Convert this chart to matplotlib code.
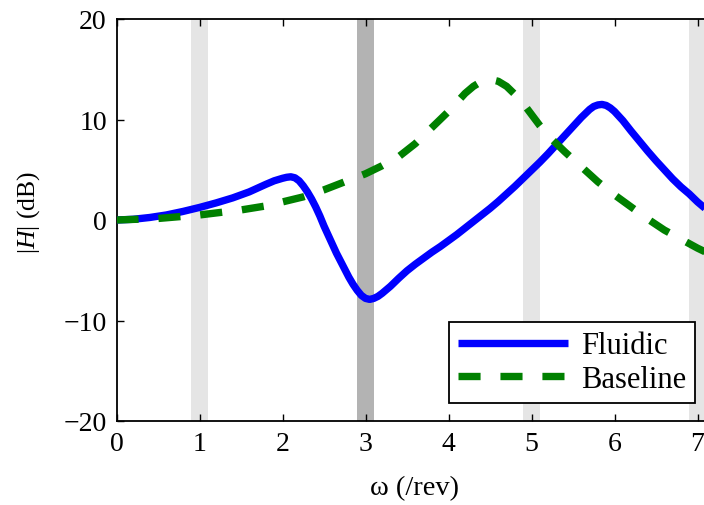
import matplotlib
matplotlib.use("Agg")
import matplotlib.pyplot as plt

# Datos
omega_fluidic = [0.0, 0.2, 0.4, 0.6, 0.8, 1.0, 1.2, 1.4, 1.6, 1.8, 1.9, 2.0, 2.05, 2.1,
                 2.15, 2.2, 2.25, 2.3, 2.35, 2.4, 2.45, 2.5, 2.55, 2.6, 2.65, 2.7, 2.75,
                 2.8, 2.85, 2.9, 2.95, 3.0, 3.05, 3.1, 3.15, 3.2, 3.3, 3.4, 3.5, 3.6,
                 3.7, 3.8, 3.9, 4.0, 4.1, 4.2, 4.3, 4.4, 4.5, 4.6, 4.7, 4.8, 4.9, 5.0,
                 5.1, 5.2, 5.3, 5.4, 5.5, 5.6, 5.7, 5.75, 5.8, 5.85, 5.9, 5.95, 6.0,
                 6.1, 6.2, 6.3, 6.4, 6.5, 6.6, 6.7, 6.8, 6.9, 7.0, 7.1, 7.2, 7.3]
h_fluidic = [0.0, 0.07, 0.25, 0.5, 0.85, 1.25, 1.7, 2.2, 2.8, 3.55, 3.9, 4.15, 4.25, 4.3,
             4.2, 3.9, 3.4, 2.8, 2.1, 1.3, 0.4, -0.6, -1.5, -2.4, -3.3, -4.1, -4.9,
             -5.7, -6.4, -7.0, -7.5, -7.8, -7.9, -7.8, -7.6, -7.3, -6.6, -5.8, -5.05, -4.4,
             -3.8, -3.2, -2.65, -2.05, -1.45, -0.8, -0.15, 0.5, 1.15, 1.85, 2.6, 3.35, 4.15, 4.95,
             5.75, 6.6, 7.5, 8.4, 9.3, 10.2, 11.0, 11.3, 11.45, 11.5, 11.4, 11.15, 10.8,
             9.9, 8.85, 7.85, 6.85, 5.9, 5.0, 4.1, 3.3, 2.6, 1.8, 1.1, 0.5, 0.0]

omega_base = [0.0, 0.5, 1.0, 1.5, 1.8, 2.0, 2.25, 2.5, 2.75, 3.0, 3.2, 3.4, 3.6, 3.8,
              3.9, 4.0, 4.1, 4.2, 4.3, 4.4, 4.5, 4.6, 4.7, 4.8, 4.9, 5.0, 5.1, 5.2,
              5.4, 5.6, 5.8, 6.0, 6.2, 6.4, 6.6, 6.8, 7.0, 7.2, 7.4]
h_base = [0.0, 0.15, 0.5, 1.0, 1.4, 1.8, 2.3, 3.0, 3.8, 4.6, 5.4, 6.3, 7.6, 9.2,
          10.0, 10.8, 11.7, 12.6, 13.3, 13.8, 14.0, 13.8, 13.3, 12.5, 11.6, 10.5, 9.4, 8.4,
          6.8, 5.3, 3.8, 2.5, 1.3, 0.1, -1.0, -1.9, -2.8, -3.6, -4.3]

bandas_claras = [1, 5, 7]
banda_oscura = 3

plt.rcParams['font.family'] = ['Liberation Serif', 'DejaVu Serif']
plt.rcParams['mathtext.fontset'] = 'custom'
plt.rcParams['mathtext.rm'] = 'Liberation Serif'
plt.rcParams['mathtext.it'] = 'Liberation Serif:italic'

fig = plt.figure(figsize=(7.04, 5.06), dpi=100)
ax = fig.add_axes([116.5 / 704, 84 / 506, 7.2 * 83 / 704, 402 / 506])

for c in bandas_claras:
    ax.axvspan(c - 0.1, c + 0.1, color='#e5e5e5', lw=0, zorder=0)
ax.axvspan(banda_oscura - 0.1, banda_oscura + 0.1, color='#b3b3b3', lw=0, zorder=0)

ax.plot(omega_fluidic, h_fluidic, color='blue', lw=5.3, label='Fluidic', zorder=3,
        solid_capstyle='butt', solid_joinstyle='round')
ax.plot(omega_base, h_base, color='green', lw=5.3, dashes=(3.0, 2.7), label='Baseline',
        zorder=4, dash_capstyle='butt')

ax.set_xlim(0, 7.2)
ax.set_ylim(-20, 20)
ax.set_xticks(range(0, 8))
ax.set_yticks([-20, -10, 0, 10, 20])
ax.tick_params(direction='in', top=True, right=True, length=5, width=1,
               labelsize=20, pad=7)
for s in ax.spines.values():
    s.set_linewidth(1.3)

ax.set_xlabel('ω (/rev)', fontsize=20.5)
ax.xaxis.set_label_coords(0.498, -0.135)
ax.set_ylabel(r'$|H|$ (dB)', fontsize=18.5)
ax.yaxis.set_label_coords(-0.125, 0.522)

leg = ax.legend(loc='lower right', bbox_to_anchor=(695 / 704, 102 / 506),
                bbox_transform=fig.transFigure, fontsize=22, handlelength=3.6,
                handletextpad=0.4, borderpad=0.3, labelspacing=0.15,
                fancybox=False, framealpha=1, edgecolor='black', borderaxespad=0)
leg.get_frame().set_linewidth(1.3)

fig.savefig('out.png', dpi=100)
